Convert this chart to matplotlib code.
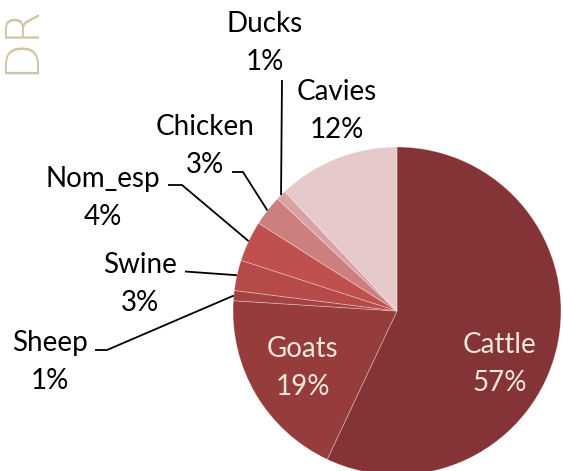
import matplotlib.pyplot as plt
import numpy as np

W, H = 563, 471

species = ['Cattle', 'Goats', 'Sheep', 'Swine', 'Nom_esp', 'Chicken', 'Ducks', 'Cavies']
share = [57, 19, 1, 3, 4, 3, 1, 12]
colors = ['#843336', '#963c3c', '#a54343', '#b54a49', '#c0504d', '#cd7e7e', '#d9a1a1', '#e6c9ca']

# label text centres (pixels, from top-left) and elbow of leader lines
label_pos = {
    'Cattle': (500, 364), 'Goats': (303, 368),
    'Sheep': (50, 362), 'Swine': (140, 284), 'Nom_esp': (103, 198),
    'Chicken': (205, 146), 'Ducks': (265, 43), 'Cavies': (337, 111),
}
elbow = {
    'Sheep': [(95, 350), (107, 350)],
    'Swine': [(185, 271.5)],
    'Nom_esp': [(168, 185), (182, 185)],
    'Chicken': [(232, 172), (243, 172)],
    'Ducks': [(282, 80)],
}
inside = ['Cattle', 'Goats']

plt.rcParams['font.family'] = ['Lato', 'DejaVu Sans']
fig = plt.figure(figsize=(W / 100, H / 100), dpi=100)
ax = fig.add_axes([0, 0, 1, 1])

cx, cy, R = 397, H - 311, 164
wedges, _ = ax.pie(share, colors=colors, startangle=90, counterclock=False,
                   center=(cx, cy), radius=R, frame=True,
                   wedgeprops=dict(edgecolor=(1, 1, 1, 0.35), linewidth=0.6))
ax.set_xlim(0, W)
ax.set_ylim(0, H)
ax.set_aspect('equal')
ax.axis('off')

for w, name, val in zip(wedges, species, share):
    x, y = label_pos[name]
    txt = f'{name}\n{val}%'
    col = '#efe8dc' if name in inside else 'black'
    ax.text(x, H - y, txt, ha='center', va='center', fontsize=20,
            color=col, linespacing=1.55)
    if name in elbow:
        mid = np.deg2rad((w.theta1 + w.theta2) / 2)
        px, py = cx + R * np.cos(mid), cy + R * np.sin(mid)
        pts = [(ex, H - ey) for ex, ey in elbow[name]]
        xs = [p[0] for p in pts] + [px]
        ys = [p[1] for p in pts] + [py]
        ax.plot(xs, ys, color='black', lw=1.3, solid_capstyle='butt')

fig.text(-0.002, 1.0 - 74 / H, 'DR', rotation=90, ha='left', va='bottom',
         fontsize=34, color='#cdc4a3', family='DejaVu Sans', fontweight=200)

fig.savefig('out.png', dpi=100)
